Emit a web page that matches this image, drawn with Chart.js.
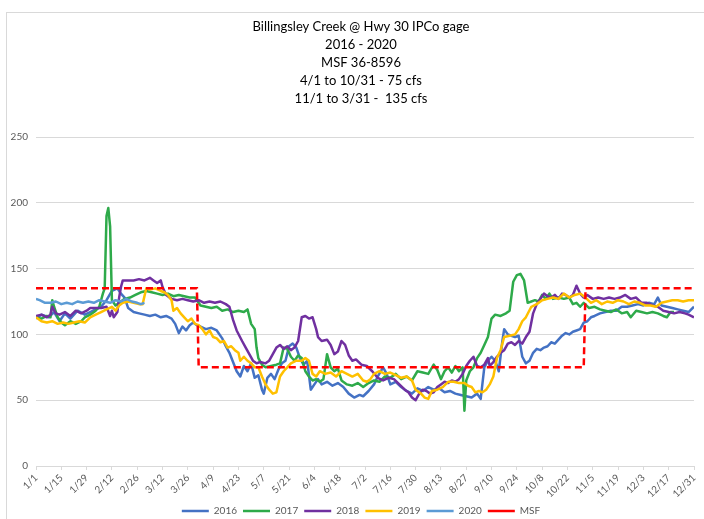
<!DOCTYPE html>
<html>
<head>
<meta charset="utf-8">
<script src="https://cdn.jsdelivr.net/npm/chart.js@4"></script>
<style>
  html, body { margin: 0; padding: 0; background: #fff; overflow: hidden; width: 704px; height: 519px; }
  .frame { position: absolute; left: 6px; top: 12px; width: 800px; height: 600px; border: 1px solid #d9d9d9; }
  canvas { position: absolute; left: 0; top: 0; }
</style>
</head>
<body>
<div class="frame"></div>
<canvas id="chart" width="722" height="519"></canvas>
<script>
// day of year -> cfs
const s2016 = [[1,112],[4,115],[8,113],[11,117],[14,110],[17,116],[20,112],[24,118],[28,115],[31,117],[34,119],[37,121],[40,126],[43,133],[46,135],[48,131],[50,128],[52,120],[55,117],[58,116],[61,115],[64,114],[67,115],[70,113],[73,114],[76,112],[78,108],[80,101],[82,106],[84,103],[86,107],[88,109],[90,107],[92,106],[95,104],[98,105],[101,103],[104,97],[106,91],[108,86],[110,79],[112,72],[114,68],[116,76],[118,72],[120,78],[122,67],[124,69],[126,58],[127,55],[129,67],[131,70],[133,66],[135,73],[137,78],[139,80],[141,91],[143,93],[145,90],[147,82],[149,77],[151,80],[153,58],[155,62],[157,66],[159,62],[162,64],[165,61],[168,63],[171,60],[174,55],[177,52],[180,54],[182,53],[185,57],[188,62],[190,68],[193,75],[195,70],[197,62],[200,64],[203,60],[206,57],[209,55],[212,59],[215,57],[218,60],[221,58],[224,59],[227,56],[230,57],[233,55],[236,54],[239,53],[242,52],[245,55],[247,51],[249,75],[251,80],[253,83],[255,80],[257,72],[259,95],[260,104],[262,100],[264,99],[266,98],[268,99],[270,83],[272,78],[274,80],[276,86],[278,89],[280,88],[282,90],[284,91],[286,94],[288,93],[290,96],[292,99],[294,101],[296,100],[298,102],[300,103],[302,104],[304,109],[306,110],[308,113],[310,114],[313,116],[316,117],[319,118],[322,118],[325,121],[328,121],[331,122],[334,123],[337,122],[340,124],[343,123],[345,128],[347,122],[350,121],[353,120],[356,119],[359,118],[362,117],[365,121]];

const s2017 = [[1,113],[4,112],[7,114],[9,113],[10,126],[11,121],[13,113],[15,109],[17,107],[20,110],[23,108],[26,110],[28,113],[31,115],[34,118],[36,121],[38,131],[39,135],[40,190],[41,196],[42,182],[43,126],[45,122],[47,124],[50,127],[53,128],[56,130],[59,132],[62,133],[65,132],[68,131],[71,130],[74,131],[77,129],[80,130],[83,129],[86,128],[89,128],[92,122],[95,121],[98,120],[101,121],[104,118],[107,119],[110,117],[113,118],[116,117],[118,119],[120,108],[122,104],[123,90],[124,82],[126,77],[128,75],[131,76],[134,77],[136,78],[138,90],[140,89],[142,83],[144,80],[146,84],[148,82],[150,72],[152,68],[154,65],[156,66],[158,64],[160,66],[162,85],[164,75],[166,72],[168,74],[170,65],[173,62],[176,61],[179,63],[182,60],[185,63],[188,65],[191,64],[194,68],[197,67],[200,70],[203,66],[206,68],[209,65],[212,72],[215,71],[218,70],[221,77],[223,73],[225,66],[227,72],[229,75],[231,71],[233,76],[235,72],[237,75],[238,42],[239,65],[241,72],[243,75],[245,82],[247,86],[249,92],[251,98],[253,112],[255,115],[258,114],[261,116],[263,118],[265,140],[267,145],[269,146],[271,141],[273,124],[275,125],[277,126],[279,125],[281,130],[283,127],[285,131],[287,127],[290,128],[293,127],[296,128],[298,123],[300,124],[302,121],[304,124],[307,120],[310,121],[313,119],[316,118],[319,117],[322,119],[325,116],[328,117],[330,113],[333,118],[336,117],[339,116],[342,117],[345,116],[348,114],[350,113],[352,117],[354,117]];

const s2018 = [[1,114],[4,115],[7,113],[9,115],[10,121],[12,116],[14,115],[17,117],[20,114],[23,118],[26,116],[29,118],[31,120],[34,120],[37,120],[40,121],[42,114],[43,118],[44,113],[46,117],[47,128],[48,136],[49,141],[52,141],[55,141],[58,142],[61,141],[64,143],[66,141],[68,139],[70,141],[71,136],[73,130],[76,127],[79,126],[82,127],[85,126],[88,125],[91,126],[94,124],[97,125],[100,124],[103,125],[106,123],[108,121],[110,111],[112,103],[115,95],[117,90],[119,85],[121,80],[123,78],[125,79],[128,78],[130,80],[132,85],[134,90],[136,92],[138,89],[140,91],[142,88],[144,90],[146,95],[148,113],[150,114],[152,112],[154,113],[156,104],[157,98],[159,95],[162,96],[164,92],[166,85],[168,87],[170,95],[172,92],[174,84],[176,80],[178,81],[181,77],[184,76],[187,72],[190,67],[193,65],[196,67],[199,66],[202,62],[205,58],[207,56],[209,52],[211,50],[213,55],[215,58],[217,57],[219,55],[221,56],[223,60],[225,62],[227,64],[229,63],[231,65],[233,64],[235,66],[237,70],[239,76],[241,80],[243,83],[245,76],[247,75],[249,77],[251,82],[252,76],[254,79],[256,83],[258,86],[260,88],[262,93],[264,94],[266,92],[268,95],[270,93],[272,98],[274,102],[276,116],[278,123],[280,127],[282,131],[284,129],[286,128],[288,130],[290,127],[292,131],[294,130],[296,128],[298,130],[300,137],[302,131],[304,128],[306,130],[309,127],[312,128],[315,127],[318,128],[321,127],[324,128],[327,130],[330,127],[333,128],[336,124],[339,124],[342,122],[345,121],[348,118],[351,117],[354,116],[357,117],[360,116],[362,115],[365,113]];

const s2019 = [[1,113],[4,110],[7,109],[10,110],[13,108],[16,109],[19,108],[22,109],[25,110],[28,109],[31,113],[34,115],[37,117],[40,119],[43,121],[45,118],[47,122],[49,124],[52,125],[55,124],[58,123],[60,123],[62,135],[64,134],[67,135],[70,133],[72,132],[74,130],[76,126],[77,118],[79,120],[81,116],[83,113],[85,110],[87,112],[89,108],[91,107],[93,104],[95,100],[97,103],[99,98],[101,97],[103,94],[105,95],[107,90],[109,91],[111,88],[113,86],[114,80],[116,83],[118,80],[120,78],[122,75],[124,75],[126,68],[128,62],[130,58],[132,55],[134,56],[136,68],[138,72],[140,75],[142,78],[145,80],[148,80],[150,82],[152,80],[154,70],[156,68],[158,72],[161,70],[164,71],[167,68],[170,72],[173,70],[176,68],[179,70],[182,65],[184,64],[186,66],[188,70],[191,72],[194,70],[197,71],[200,69],[203,67],[206,68],[209,65],[211,58],[214,55],[216,52],[218,51],[220,57],[223,58],[226,60],[229,64],[232,64],[235,63],[238,63],[240,61],[242,60],[244,56],[246,57],[248,56],[250,58],[252,62],[254,68],[256,82],[258,88],[260,98],[263,99],[266,100],[268,104],[270,110],[272,113],[275,121],[278,123],[281,126],[284,127],[287,128],[290,127],[293,131],[296,128],[299,130],[302,131],[305,128],[308,124],[311,126],[314,123],[317,125],[320,124],[323,126],[326,125],[329,123],[332,125],[335,124],[338,122],[341,122],[344,121],[347,124],[350,125],[353,126],[356,126],[359,125],[362,126],[365,126]];

const s2020 = [[1,127],[3,126],[6,124],[9,124],[12,125],[15,123],[18,124],[21,123],[24,125],[27,124],[30,125],[33,124],[36,126],[39,125],[42,124],[45,126],[48,125],[51,127],[54,125],[57,124],[59,123],[61,124]];

// minimum stream flow: 135 cfs 11/1-3/31, 75 cfs 4/1-10/31
const msf = [[1,135],[90,135],[91,75],[304,75],[305,135],[365,135]];

const tickDays = [1,15,29,43,57,71,85,99,113,127,141,155,169,183,197,211,225,239,253,267,281,295,309,323,337,351,365];
const tickLabels = ['1/1','1/15','1/29','2/12','2/26','3/12','3/26','4/9','4/23','5/7','5/21','6/4','6/18','7/2','7/16','7/30','8/13','8/27','9/10','9/24','10/8','10/22','11/5','11/19','12/3','12/17','12/31'];

const titleLines = ['Billingsley Creek @ Hwy 30 IPCo gage', '2016 - 2020', 'MSF 36-8596', '4/1 to 10/31 - 75 cfs', '11/1 to 3/31 -  135 cfs'];

const pts = (arr) => arr.map(([x, y]) => ({ x, y }));

function line(label, arr, color, order) {
  return {
    label,
    data: pts(arr),
    borderColor: color,
    backgroundColor: color,
    borderWidth: 2.5,
    pointRadius: 0,
    tension: 0,
    borderJoinStyle: 'round',
    order,
  };
}

const font = 'Lato, "Liberation Sans", sans-serif';

new Chart(document.getElementById('chart'), {
  type: 'line',
  data: {
    datasets: [
      line('2016', s2016, '#4472C4', 6),
      line('2017', s2017, '#2EAA4A', 5),
      line('2018', s2018, '#7030A0', 4),
      line('2019', s2019, '#FFC000', 3),
      line('2020', s2020, '#5B9BD5', 2),
      { ...line('MSF', msf, '#FF0000', 1), borderDash: [7, 4], borderJoinStyle: 'miter' },
    ],
  },
  options: {
    responsive: false,
    animation: false,
    devicePixelRatio: 1,
    layout: { padding: { left: 0, right: 0, top: 0, bottom: -7 } },
    scales: {
      x: {
        type: 'linear',
        min: 1,
        max: 365,
        afterBuildTicks: (axis) => { axis.ticks = tickDays.map((v) => ({ value: v })); },
        afterFit: (axis) => { axis.height = 34; },
        ticks: {
          autoSkip: false,
          minRotation: 45,
          maxRotation: 45,
          padding: 2,
          color: '#595959',
          font: { family: font, size: 10 },
          callback: (v) => tickLabels[tickDays.indexOf(v)],
        },
        grid: { drawOnChartArea: false, color: '#D9D9D9', tickLength: 4 },
        border: { color: '#D9D9D9' },
      },
      y: {
        min: 0,
        max: 250,
        afterFit: (axis) => { axis.width = 36; },
        ticks: {
          stepSize: 50,
          padding: 8,
          color: '#595959',
          font: { family: font, size: 10 },
        },
        grid: { color: '#D9D9D9', drawTicks: false },
        border: { display: false },
      },
      // empty spacer on the right: keeps the plot end at 694 while title/legend
      // centre on the full (wider than window) canvas
      spacer: {
        position: 'right',
        afterFit: (axis) => { axis.width = 28; },
        ticks: { display: false },
        grid: { display: false },
        border: { display: false },
      },
    },
    plugins: {
      title: {
        display: true,
        text: titleLines,
        color: '#000',
        font: { family: font, size: 13, weight: 'normal', lineHeight: 18 / 13 },
        padding: { top: 18, bottom: 29 },
      },
      legend: {
        position: 'bottom',
        labels: {
          usePointStyle: true,
          pointStyle: 'line',
          pointStyleWidth: 27,
          boxWidth: 27,
          padding: 6,
          color: '#595959',
          font: { family: font, size: 10 },
          sort: (a, b) => a.datasetIndex - b.datasetIndex,
        },
      },
      tooltip: { enabled: false },
    },
  },
});
</script>
</body>
</html>
